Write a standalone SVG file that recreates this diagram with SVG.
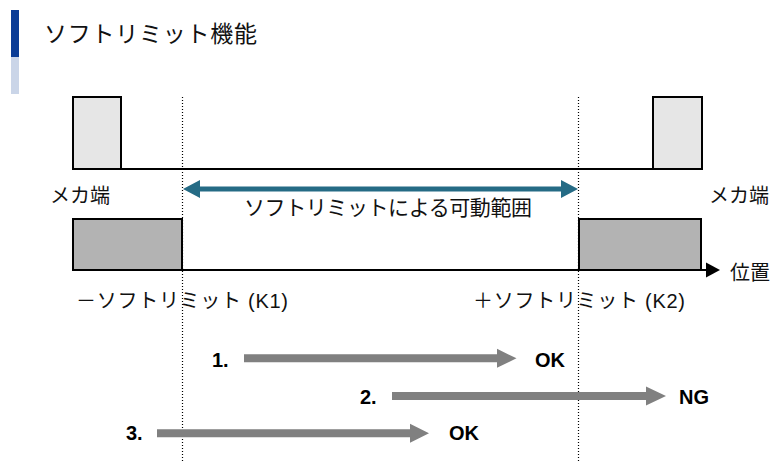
<svg xmlns="http://www.w3.org/2000/svg" width="771" height="462" viewBox="0 0 771 462">
<style>
  text { font-family: "Liberation Sans", "Noto Sans CJK JP", sans-serif; fill: #111; }
  .jp { font-size: 20px; }
  .num { font-size: 20px; font-weight: bold; fill: #000; }
  .mech { fill: #e6e6e6; stroke: #000; stroke-width: 2; }
  .soft { fill: #b3b3b3; stroke: #000; stroke-width: 2; }
  .axis { stroke: #000; stroke-width: 2; fill: none; }
  .dot { stroke: #000; stroke-width: 1.2; stroke-dasharray: 1 2; fill: none; }
  .move { fill: #808080; }
  .range { fill: #256b85; }
</style>
<rect width="771" height="462" fill="#fff"/>
<g id="title">
  <rect x="11" y="10" width="8" height="47" fill="#0a3c96"/>
  <rect x="11" y="57" width="8" height="37" fill="#cad5e8"/>
  <text x="44" y="42" style="font-size:23px" textLength="213" lengthAdjust="spacing">ソフトリミット機能</text>
</g>
<g id="mech-end-left">
  <rect class="mech" x="73" y="97" width="48" height="72"/>
  <text class="jp" x="50" y="203" textLength="60" lengthAdjust="spacing">メカ端</text>
</g>
<g id="mech-end-right">
  <rect class="mech" x="653" y="97" width="49" height="72"/>
  <text class="jp" x="709" y="203" textLength="60" lengthAdjust="spacing">メカ端</text>
</g>
<g id="soft-limit-left">
  <rect class="soft" x="73" y="219" width="109" height="51"/>
  <text class="jp" x="76" y="308" textLength="212" lengthAdjust="spacing">－ソフトリミット (K1)</text>
</g>
<g id="soft-limit-right">
  <rect class="soft" x="579" y="219" width="122" height="51"/>
  <text class="jp" x="473" y="308" textLength="212" lengthAdjust="spacing">＋ソフトリミット (K2)</text>
</g>
<g id="position-label">
  <text class="jp" x="730" y="280" textLength="40" lengthAdjust="spacing">位置</text>
</g>
<g id="range-label">
  <text class="jp" x="244" y="215" style="font-size:21px" textLength="288" lengthAdjust="spacing">ソフトリミットによる可動範囲</text>
</g>
<g id="labels">
  <text class="num" x="212" y="367">1.</text>
  <text class="num" x="535" y="367">OK</text>
  <text class="num" x="360" y="404">2.</text>
  <text class="num" x="679" y="404">NG</text>
  <text class="num" x="126" y="440">3.</text>
  <text class="num" x="449" y="440">OK</text>
</g>
<g id="connectors">
  <line class="axis" x1="121" y1="169" x2="653" y2="169"/>
  <line class="axis" x1="182" y1="270" x2="708" y2="270"/>
  <polygon fill="#000" points="706,262.5 720,270 706,277.5"/>
  <line class="dot" x1="182.5" y1="97" x2="182.5" y2="462"/>
  <line class="dot" x1="578.5" y1="97" x2="578.5" y2="462"/>
  <polygon class="range" points="183,189 200,180 200,186.5 561,186.5 561,180 578,189 561,198 561,191.5 200,191.5 200,198"/>
  <polygon class="move" points="244,354.3 497,354.3 497,348.8 516.5,358.3 497,367.8 497,362.3 244,362.3"/>
  <polygon class="move" points="392,392 646,392 646,386.5 666,396 646,405.5 646,400 392,400"/>
  <polygon class="move" points="157,429.3 410,429.3 410,423.8 429,433.3 410,442.8 410,437.3 157,437.3"/>
</g>
</svg>
